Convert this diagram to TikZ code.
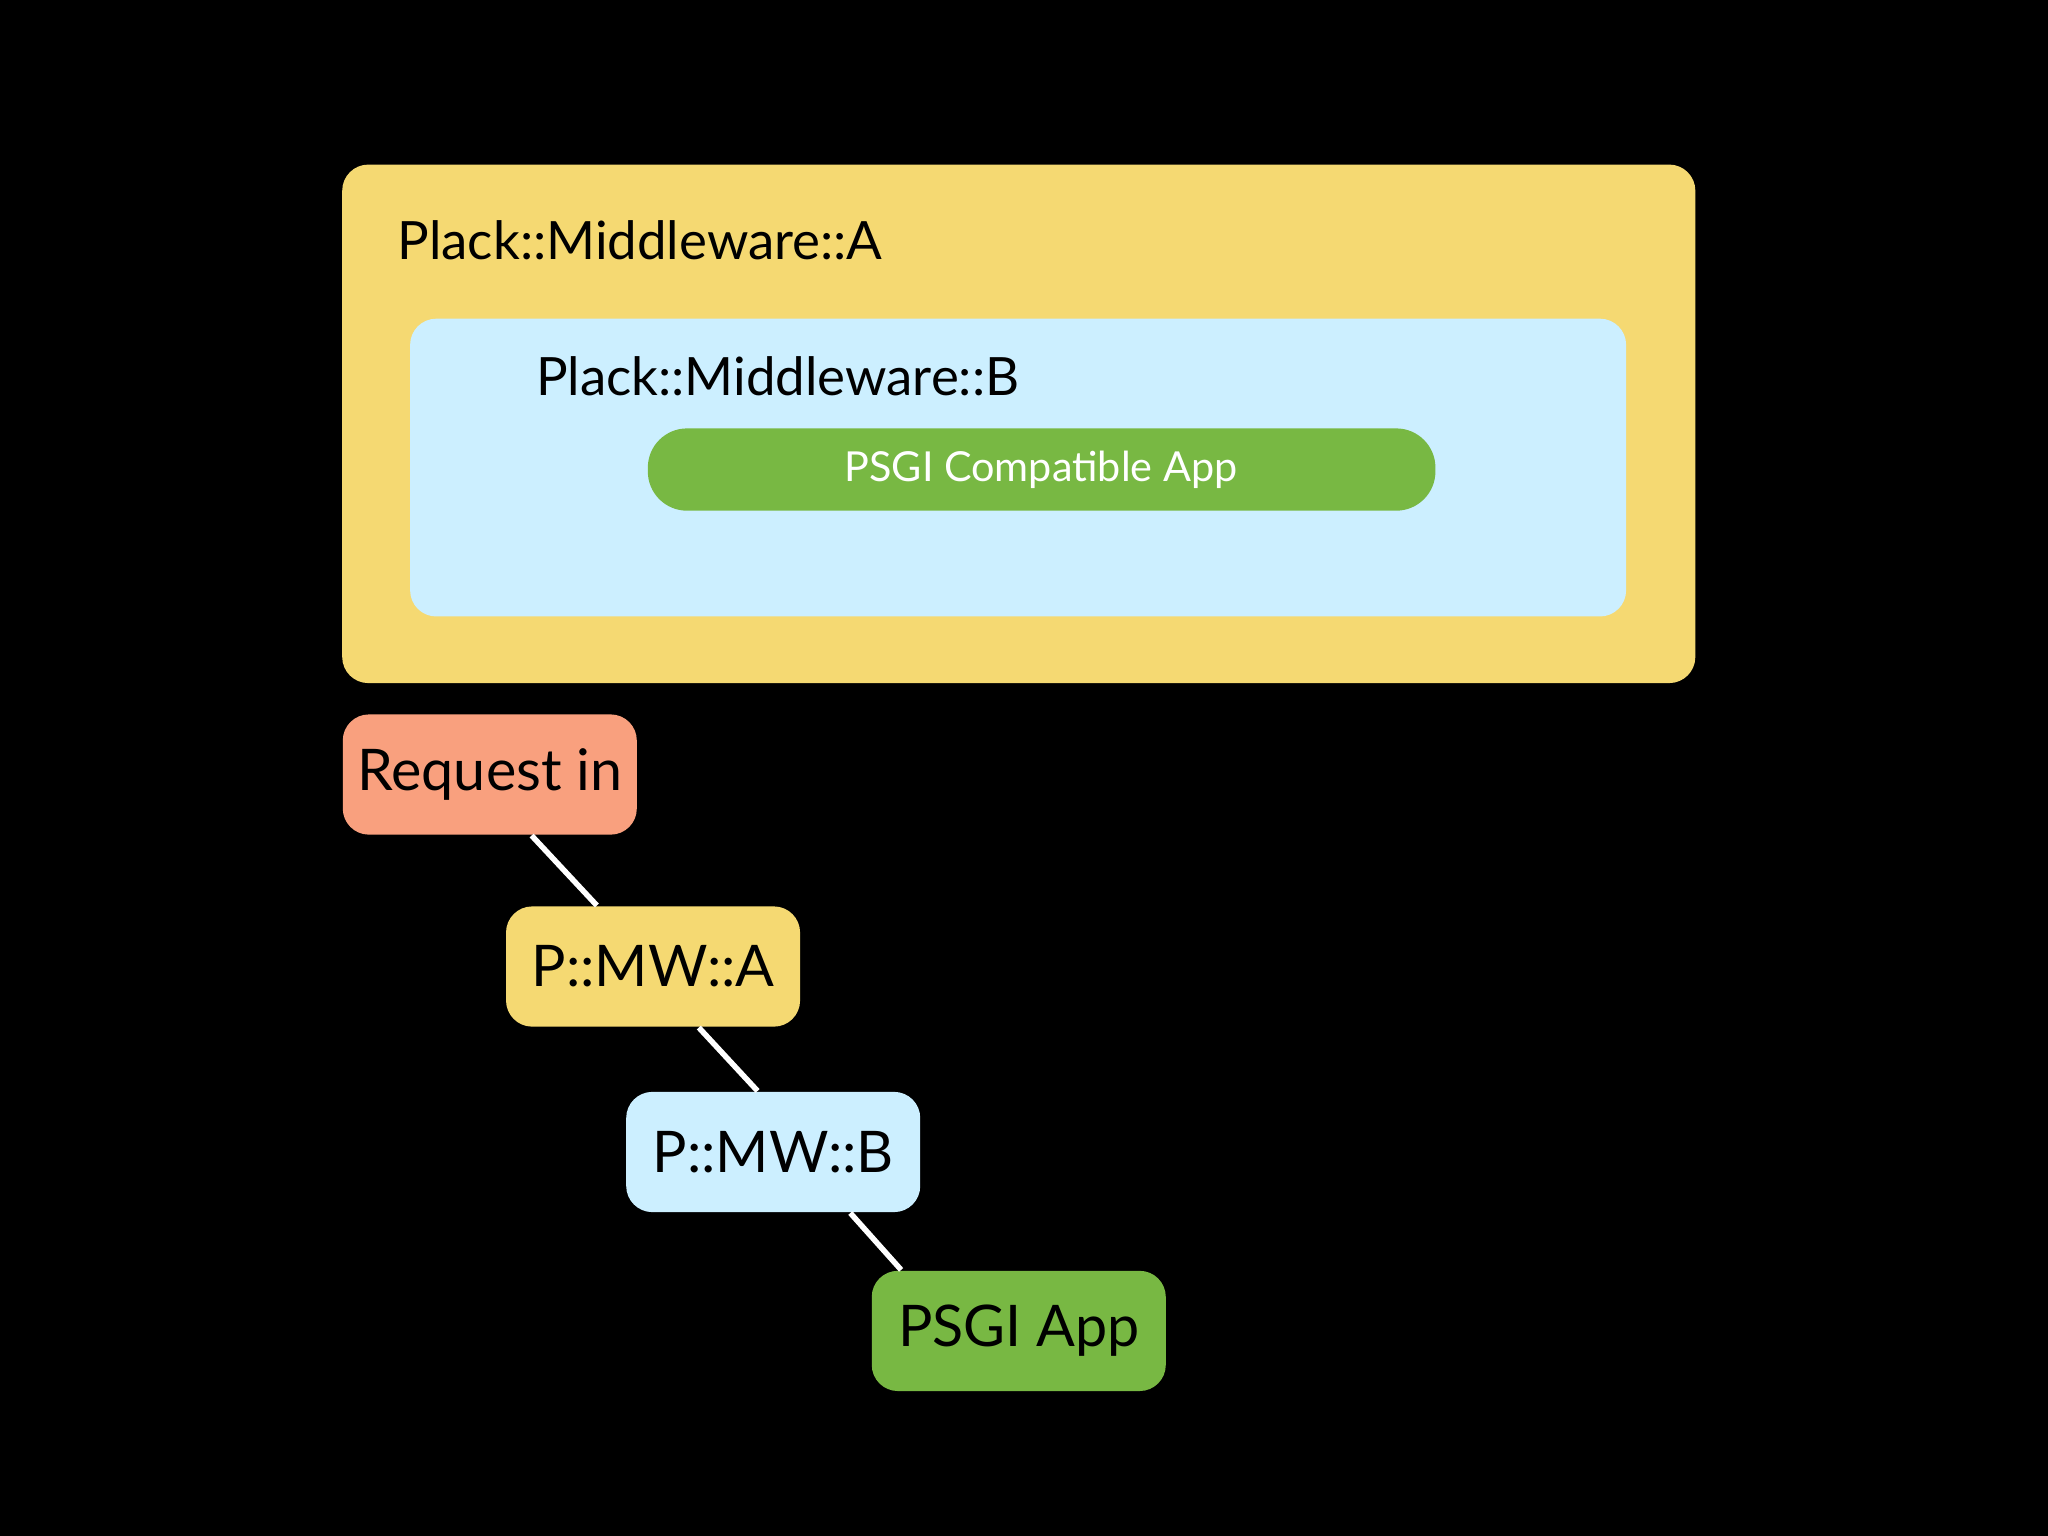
\documentclass[tikz,border=0pt]{standalone}
\usepackage{fontspec}
\setmainfont{Lato}
\begin{document}
\begin{tikzpicture}[x=0.01cm, y=-0.01cm,
    box/.style = {draw = none, rounded corners = 0.2cm, inner sep = 0pt},
    tag/.style = {box, minimum width = 2.25cm, minimum height = 0.92cm, font = \fontsize{12.5}{14}\selectfont},
    link/.style = {white, line width = 1.2pt}]
  \fill[black] (0,0) rectangle (1568,1176);
  \useasboundingbox (0,0) rectangle (1568,1176);
  \definecolor{mwyellow}{HTML}{F5D972}
  \definecolor{mwblue}{HTML}{CCEFFF}
  \definecolor{appgreen}{HTML}{78B843}
  \definecolor{reqred}{HTML}{F9A07E}

  % nested picture
  \fill[mwyellow, rounded corners = 0.2cm] (262,126) rectangle (1298,523);
  \fill[mwblue, rounded corners = 0.2cm] (314,244) rectangle (1245,472);
  \fill[appgreen, rounded corners = 0.3cm] (496,328) rectangle (1099,391);
  \node[anchor = west, font = \fontsize{11.5}{13}\selectfont] (tA) at (292,184) {Plack::Middleware::A};
  \node[anchor = west, font = \fontsize{11.5}{13}\selectfont] (tB) at (398,288) {Plack::Middleware::B};
  \node[white, font = \fontsize{9}{11}\selectfont] (tApp) at (797,360) {PSGI Compatible App};

  % chain
  \node[tag, fill = reqred] (req) at (375,593) {Request in};
  \node[tag, fill = mwyellow] (mwa) at (500,740) {P::MW::A};
  \node[tag, fill = mwblue] (mwb) at (592,882) {P::MW::B};
  \node[tag, fill = appgreen] (app) at (780,1019) {PSGI App};

  \draw[link] ([xshift = 0.32cm]req.south) -- ([xshift = -0.43cm]mwa.north);
  \draw[link] ([xshift = 0.35cm]mwa.south) -- ([xshift = -0.12cm]mwb.north);
  \draw[link] ([xshift = 0.59cm]mwb.south) -- ([xshift = -0.9cm]app.north);
\end{tikzpicture}
\end{document}
